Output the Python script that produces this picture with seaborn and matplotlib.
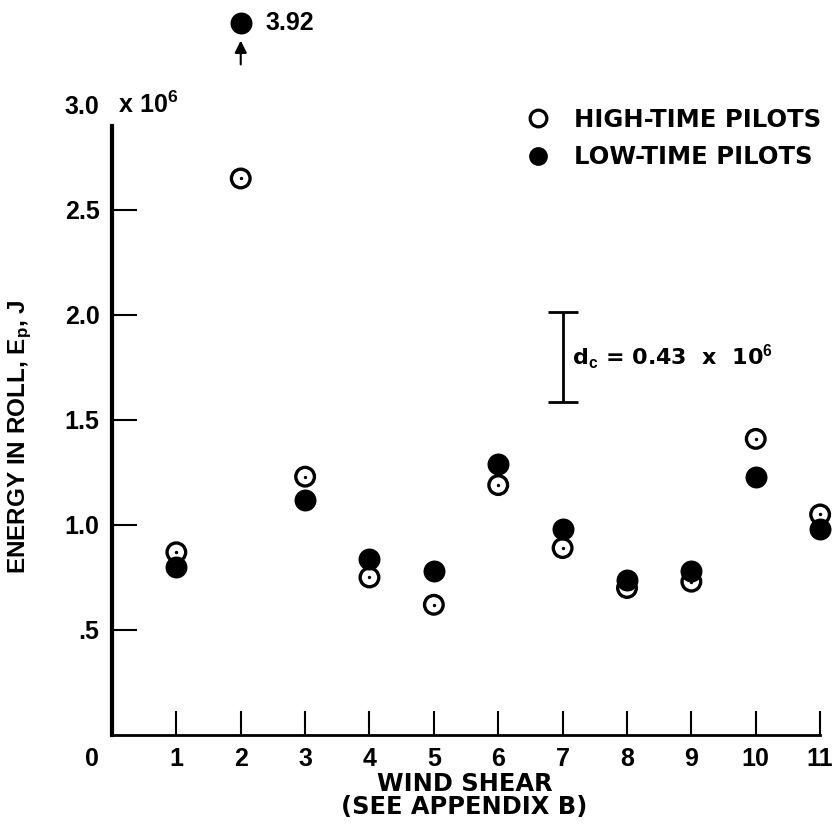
import numpy as np
import matplotlib
matplotlib.use("Agg")
import matplotlib.pyplot as plt
from matplotlib.lines import Line2D
import seaborn as sns

# wind shear condition (see appendix B)
shear = [1, 2, 3, 4, 5, 6, 7, 8, 9, 10, 11]
# energy in roll, x 10^6 J
high_time = [0.87, 2.65, 1.23, 0.75, 0.62, 1.19, 0.89, 0.70, 0.73, 1.41, 1.05]
low_time = [0.80, 3.92, 1.12, 0.84, 0.78, 1.29, 0.98, 0.74, 0.78, 1.23, 0.98]
y_ticks = [0.5, 1.0, 1.5, 2.0, 2.5, 3.0]
y_ticklabels = [".5", "1.0", "1.5", "2.0", "2.5", "3.0"]
dc = 0.43  # critical difference

sns.set_style("ticks")
plt.rcParams["font.family"] = ["Liberation Sans", "DejaVu Sans"]
plt.rcParams["font.weight"] = "bold"
plt.rcParams["axes.labelweight"] = "bold"
for key in ["text.color", "axes.labelcolor", "xtick.color", "ytick.color",
            "axes.edgecolor"]:
    plt.rcParams[key] = "black"
plt.rcParams["mathtext.fontset"] = "custom"
plt.rcParams["mathtext.rm"] = "Liberation Sans:bold"
plt.rcParams["mathtext.it"] = "Liberation Sans:bold"
plt.rcParams["mathtext.bf"] = "Liberation Sans:bold"

wide = ["DejaVu Sans"]

fig = plt.figure(figsize=(8.35, 8.3), dpi=100)
ax = fig.add_axes([0.1341, 0.1145, 0.8635, 0.8855])
ax.set_xlim(0, 11.2)
ax.set_ylim(0, 3.5)

# off-scale values are drawn at the top, with an arrow
y_top = 3.39
low_plot = np.minimum(low_time, y_top)

sns.scatterplot(x=shear, y=low_plot, s=250, color="black", linewidth=0,
                ax=ax, zorder=3)
sns.scatterplot(x=shear, y=high_time, s=180, facecolor="none",
                edgecolor="black", linewidth=2.4, ax=ax, zorder=4)
sns.scatterplot(x=shear, y=high_time, s=6, color="black", linewidth=0,
                ax=ax, zorder=5)

for x, v in zip(shear, low_time):
    if v > y_top:
        ax.annotate("", xy=(x, y_top - 0.07), xytext=(x, y_top - 0.21),
                    arrowprops=dict(arrowstyle="-|>", color="black", lw=1.5,
                                    mutation_scale=18))
        ax.text(x + 0.38, y_top, f"{v:.2f}", fontsize=18, va="center",
                ha="left", fontweight="bold")

# critical difference bar
ax.errorbar([7.0], [1.80], yerr=[dc / 2], fmt="none", ecolor="black",
            elinewidth=2, capsize=11, capthick=2)
ax.text(7.14, 1.80, r"d$_\mathrm{c}$ = 0.43  x  10$^6$", fontsize=16,
        va="center", ha="left", family=wide, fontweight="bold")

# axes styling
sns.despine(ax=ax)
ax.spines["left"].set_linewidth(3)
ax.spines["bottom"].set_linewidth(2)
ax.spines["left"].set_bounds(0, 2.9)
ax.spines["bottom"].set_bounds(0, 11)

ax.set_xticks(shear)
ax.set_xticklabels([str(s) for s in shear])
ax.set_yticks(y_ticks)
ax.set_yticklabels(y_ticklabels)
ax.yaxis.get_major_ticks()[-1].tick1line.set_visible(False)
ax.tick_params(axis="x", direction="in", length=17, width=1.5, pad=9,
               labelsize=18)
ax.tick_params(axis="y", direction="in", length=18, width=1.5, pad=9,
               labelsize=18)

ax.text(0.0, 3.0, r" x 10$^6$", fontsize=18, va="center", ha="left")
ax.annotate("0", xy=(0, 0), xytext=(-20, -24), textcoords="offset pixels",
            fontsize=18, ha="center", va="center")

ax.set_ylabel(r"ENERGY IN ROLL, E$_\mathrm{p}$, J", fontsize=17.5)
ax.yaxis.set_label_coords(-0.108, 0.405)
ax.set_xlabel("WIND SHEAR\n(SEE APPENDIX B)", fontsize=17.4, family=wide,
              linespacing=0.95)
ax.xaxis.set_label_coords(0.489, -0.050)

handles = [
    Line2D([], [], marker="o", linestyle="none", markersize=12,
           markerfacecolor="none", markeredgecolor="black",
           markeredgewidth=2.3, label="HIGH-TIME PILOTS"),
    Line2D([], [], marker="o", linestyle="none", markersize=13.5,
           markerfacecolor="black", markeredgecolor="black",
           markeredgewidth=0, label="LOW-TIME PILOTS"),
]
fig.legend(handles=handles, loc="upper left", bbox_to_anchor=(0.630, 0.870),
           frameon=False, borderpad=0, handlelength=1.0,
           handletextpad=0.98, labelspacing=0.54, borderaxespad=0,
           prop=dict(family=wide, weight="bold", size=17.5))

fig.savefig("out.png", dpi=100)
